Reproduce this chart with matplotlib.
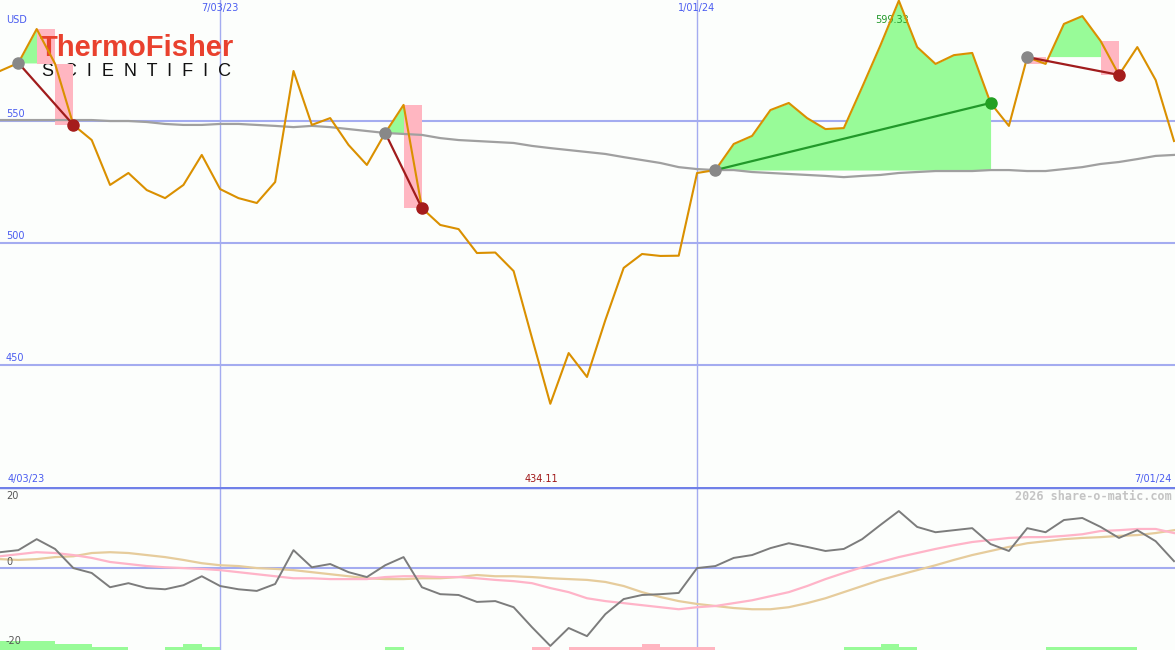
import numpy as np
import pandas as pd
import matplotlib
matplotlib.use("Agg")
import matplotlib.pyplot as plt
import matplotlib.dates as mdates

# weekly closes, 4/10/23 .. 7/01/24
price = [570.5, 573.8, 587.7, 573.5, 548.4, 542.2, 523.8, 528.7, 521.7, 518.4,
         523.8, 536.1, 522.1, 518.4, 516.4, 525.0, 570.5, 548.4, 551.2, 540.2,
         532.0, 545.1, 556.6, 514.3, 507.4, 505.7, 495.9, 496.1, 488.5, 461.1,
         434.11, 454.9, 445.1, 468.4, 489.8, 495.5, 494.7, 494.8, 528.7, 529.9,
         540.6, 543.9, 554.5, 557.4, 551.2, 546.7, 547.1, 563.9, 581.1, 599.33,
         580.3, 573.4, 577.0, 577.9, 557.4, 548.0, 576.2, 573.4, 589.8, 593.0,
         582.8, 568.9, 580.3, 566.8, 541.8]
ma_long = [550.4, 550.4, 550.4, 550.4, 550.4, 550.4, 550.0, 550.0, 549.6, 548.8,
           548.4, 548.4, 548.8, 548.8, 548.4, 548.0, 547.5, 548.0, 547.5, 546.7,
           545.9, 545.1, 544.7, 544.3, 543.0, 542.2, 541.8, 541.4, 541.0, 539.8,
           538.9, 538.1, 537.3, 536.5, 535.2, 534.0, 532.8, 531.1, 530.3, 529.9,
           529.9, 529.1, 528.7, 528.3, 527.9, 527.5, 527.0, 527.5, 527.9, 528.7,
           529.1, 529.5, 529.5, 529.5, 529.9, 529.9, 529.5, 529.5, 530.3, 531.1,
           532.4, 533.2, 534.4, 535.7, 536.1]

# lower panel
momentum = [3.9, 4.4, 7.1, 4.7, 0.0, -1.2, -4.7, -3.7, -4.9, -5.2,
            -4.2, -2.0, -4.4, -5.2, -5.6, -3.9, 4.4, 0.2, 1.0, -1.0,
            -2.2, 0.7, 2.7, -4.7, -6.4, -6.6, -8.3, -8.1, -9.6, -14.5,
            -19.1, -14.7, -16.7, -11.3, -7.6, -6.6, -6.4, -6.1, 0.0, 0.5,
            2.5, 3.2, 4.9, 6.1, 5.2, 4.2, 4.7, 7.1, 10.6, 14.0,
            10.1, 8.8, 9.3, 9.8, 5.9, 4.2, 9.8, 8.8, 11.8, 12.3,
            10.1, 7.4, 9.3, 6.6, 1.7]
mom_fast = [2.9, 3.4, 3.9, 3.7, 3.2, 2.5, 1.5, 1.0, 0.5, 0.2,
            0.0, -0.2, -0.5, -1.0, -1.5, -2.0, -2.5, -2.5, -2.7, -2.7,
            -2.7, -2.2, -2.0, -2.0, -2.2, -2.2, -2.5, -2.9, -3.2, -3.7,
            -4.9, -5.9, -7.4, -8.1, -8.6, -9.1, -9.6, -10.1, -9.6, -9.3,
            -8.6, -7.9, -6.9, -5.9, -4.4, -2.7, -1.2, 0.2, 1.5, 2.7,
            3.7, 4.7, 5.6, 6.4, 6.9, 7.4, 7.6, 7.6, 7.9, 8.3,
            9.1, 9.3, 9.6, 9.6, 8.6]
mom_slow = [2.2, 2.0, 2.2, 2.7, 2.9, 3.7, 3.9, 3.7, 3.2, 2.7,
            2.0, 1.2, 0.7, 0.5, 0.0, -0.2, -0.5, -1.0, -1.5, -2.0,
            -2.5, -2.7, -2.7, -2.5, -2.5, -2.2, -1.7, -2.0, -2.0, -2.2,
            -2.5, -2.7, -2.9, -3.4, -4.4, -5.9, -7.1, -8.1, -8.8, -9.3,
            -9.8, -10.1, -10.1, -9.6, -8.6, -7.4, -5.9, -4.4, -2.9, -1.7,
            -0.5, 0.7, 2.0, 3.2, 4.2, 5.2, 6.1, 6.6, 7.1, 7.4,
            7.6, 7.9, 8.1, 8.6, 9.3]
# signal strength bars (+ green, - pink)
signal = [3, 3, 3, 2, 2, 1, 1, 0, 0, 1, 2, 1, 0, 0, 0, 0, 0, 0, 0, 0,
          0, 1, 0, 0, 0, 0, 0, 0, 0, -1, 0, -1, -1, -1, -1, -2, -1, -1, -1, 0,
          0, 0, 0, 0, 0, 0, 1, 1, 2, 1, 0, 0, 0, 0, 0, 0, 0, 1, 1, 1,
          1, 1, 0, 0]

trade_in = [1, 21, 39, 56]
trade_out = [4, 23, 54, 61]

dates = pd.date_range("2023-04-10", periods=len(price), freq="7D")
x = mdates.date2num(dates)
price = np.array(price)
grid_dates = mdates.date2num(pd.to_datetime(["2023-07-03", "2024-01-01"]))

bg = "#fcfefc"
gridc = "#a4acf0"
bluet = "#4a5cf0"

fig = plt.figure(figsize=(11.75, 6.5), dpi=100, facecolor=bg)
ax = fig.add_axes([0, 1 - 487 / 650, 1, 487 / 650], facecolor=bg)
ax2 = fig.add_axes([0, 0, 1, 163 / 650], facecolor=bg)
xmax = x[-1] + (x[-1] - x[0]) / 1174
for a in (ax, ax2):
    a.set_xlim(x[0], xmax)
    a.axis("off")
    for g in grid_dates:
        a.axvline(g, color=gridc, lw=1, zorder=1)
ax.set_ylim(400, 599.6)
ax2.set_ylim(-20.1, 19.9)

for lev in (450, 500, 550):
    ax.axhline(lev, color=gridc, lw=1.5, zorder=1)
    ax.annotate(str(lev), (x[0], lev), xytext=(6, 2), textcoords="offset pixels",
                fontsize=7, color=bluet, va="bottom", ha="left")
ax.text(6 / 1175, 1 - 20 / 487, "USD", transform=ax.transAxes, fontsize=7,
        color=bluet, va="center")
for g, lab in zip(grid_dates, ["7/03/23", "1/01/24"]):
    ax.annotate(lab, (g, 599.6), xytext=(0, -3), textcoords="offset pixels",
                fontsize=7, color=bluet, ha="center", va="top")
ax.text(8 / 1175, 8 / 487, "4/03/23", transform=ax.transAxes, fontsize=7,
        color=bluet, va="center")
ax.text(1172 / 1175, 8 / 487, "7/01/24", transform=ax.transAxes, fontsize=7,
        color=bluet, va="center", ha="right")

# logo
ax.text(40 / 1175, 1 - 48 / 487, "ThermoFisher", transform=ax.transAxes,
        fontsize=21, fontweight="bold", family="Liberation Sans", color="#e9412e",
        va="center", ha="left", zorder=3.5)
ax.text(42 / 1175, 1 - 71 / 487, "S  C  I  E  N  T  I  F  I  C", transform=ax.transAxes,
        fontsize=13, family="Liberation Sans", color="#111111",
        va="center", ha="left", zorder=2.5)

# trades
for a_i, b_i in zip(trade_in, trade_out):
    entry = price[a_i]
    seg = slice(a_i, b_i + 1)
    ax.fill_between(x[seg], price[seg], entry, where=price[seg] >= entry,
                    interpolate=True, color="#98fb98", lw=0, zorder=3)
    for i in range(a_i + 1, b_i + 1):
        if price[i] < price[i - 1] and price[i] < entry:
            ax.fill_between(x[i - 1:i + 1], price[i - 1], price[i],
                            color="#ffb6c1", lw=0, zorder=3.1)
    win = price[b_i] > entry
    lc = "#22992a" if win else "#a01c1c"
    ax.plot([x[a_i], x[b_i]], [entry, price[b_i]], color=lc, lw=1.6, zorder=5)
    ax.plot(x[a_i], entry, "o", ms=8, color="#888888", zorder=6)
    ax.plot(x[b_i], price[b_i], "o", ms=8, color="#22a022" if win else "#a51c1c", zorder=6)

ax.plot(x, ma_long, color="#a0a0a0", lw=1.6, zorder=3.2)
ax.plot(x, price, color="#da9000", lw=1.5, zorder=4)

imax = int(np.argmax(price))
imin = int(np.argmin(price))
ax.annotate("%.2f" % price[imax], (x[imax], 599.6), xytext=(-7, -20),
            textcoords="offset pixels", fontsize=7, color="#22992a",
            ha="center", va="center", zorder=3.3)
ax.text(x[imin] - 3.5, 400 + 8 / 2.44, "%.2f" % price[imin], fontsize=7,
        color="#a01818", ha="center", va="center")

# lower panel
ax2.axhline(0, color=gridc, lw=1.5, zorder=1)
ax2.axhline(19.9, color="#7080e8", lw=2.5, zorder=2)
ax2.plot(x, mom_slow, color="#e6cc9c", lw=1.6, zorder=3)
ax2.plot(x, mom_fast, color="#ffb4c8", lw=1.6, zorder=3)
ax2.plot(x, momentum, color="#7c7c7c", lw=1.4, zorder=4)
sig = np.array(signal)
ax2.bar(x[:-1], np.abs(sig) * 0.74, width=7, align="edge", bottom=-20.1,
        color=np.where(sig >= 0, "#98fb98", "#ffb6c1"), lw=0, zorder=2)
for lab, yy in (("20", 496), ("0", 562), ("-20", 641)):
    ax2.text(6 / 1175, 1 - (yy - 487) / 163, lab, transform=ax2.transAxes,
             fontsize=7, color="#555555", va="center", zorder=5)
ax2.text(1172 / 1175, 1 - 9 / 163, "2026 share-o-matic.com", transform=ax2.transAxes,
         fontsize=8.5, family="DejaVu Sans Mono", fontweight="bold", color="#c4c4c4",
         ha="right", va="center", zorder=5)

fig.savefig("out.png", dpi=100, facecolor=bg)
